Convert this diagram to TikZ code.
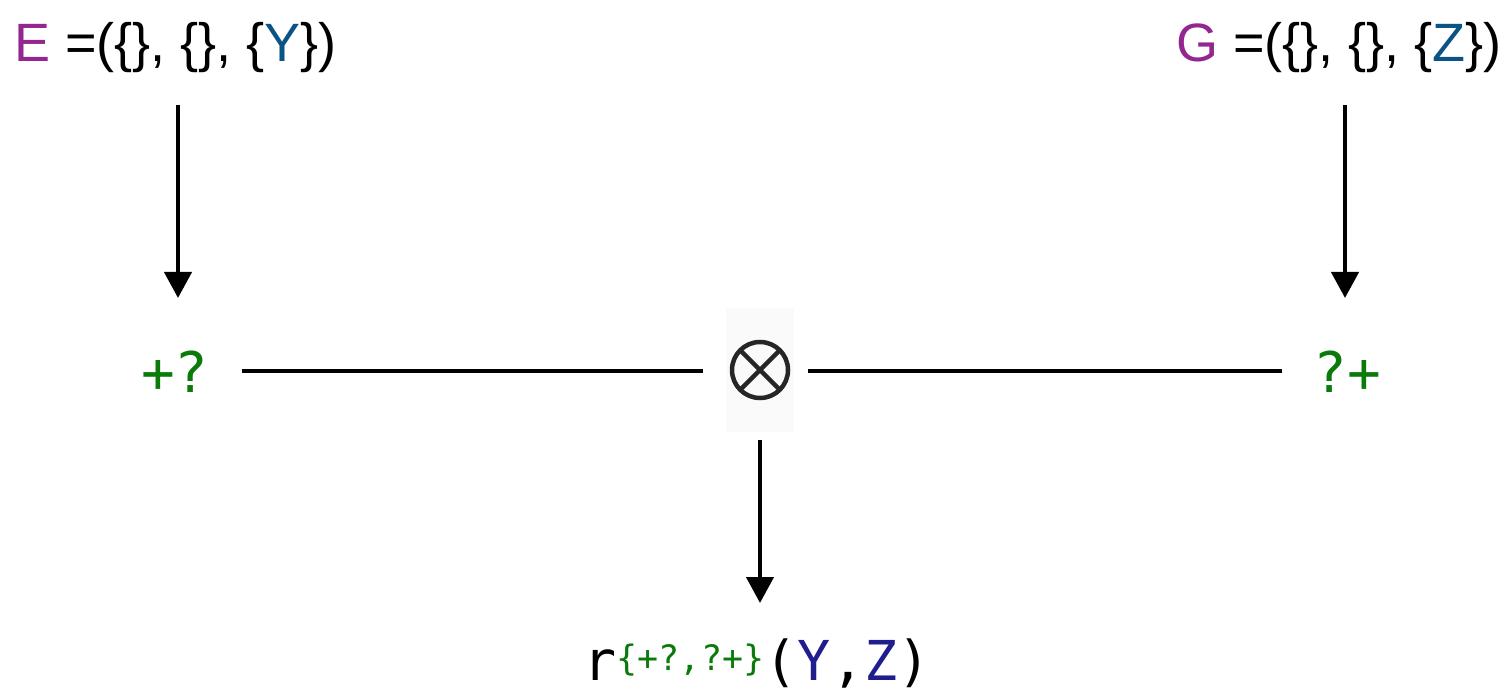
\documentclass[tikz,border=0pt]{standalone}
\usepackage{fontspec}
\usetikzlibrary{arrows.meta}
\setmainfont{Liberation Sans}
\newfontfamily\monof{DejaVu Sans Mono}
\definecolor{vpurple}{HTML}{93278F}
\definecolor{vblue}{HTML}{0B5384}
\definecolor{vnavy}{HTML}{201D8E}
\definecolor{vgreen}{HTML}{0A7A0A}
\definecolor{vbg}{HTML}{FAFAFA}
\tikzset{
  toplabel/.style={inner sep=0pt, font=\fontsize{54}{60}\selectfont},
  opnode/.style={inner sep=0pt, text=vgreen, font=\monof\fontsize{56}{60}\selectfont},
  arr/.style={line width=4.3pt, -{Triangle[length=26pt,width=27pt]}},
  conn/.style={line width=4.3pt}
}
\begin{document}
\begin{tikzpicture}[x=1pt,y=-1pt]
\useasboundingbox (0,0) rectangle (1511,692);
% top labels
\node[toplabel, anchor=base west] (E) at (14,62) {\textcolor{vpurple}{E} =(\{\}, \{\}, \{\textcolor{vblue}{Y}\})};
\node[toplabel, anchor=base west] (G) at (1176,62) {\textcolor{vpurple}{G} =(\{\}, \{\}, \{\textcolor{vblue}{Z}\})};
% operand nodes
\node[opnode, anchor=base] (pq) at (175,392) {+?};
\node[opnode, anchor=base] (qp) at (1347,392) {?+};
% otimes
\node[fill=vbg, minimum width=68pt, minimum height=124pt, inner sep=0pt] (ot) at (760,370) {};
\draw[line width=4.5pt, color=black!85] (ot.center) circle (28pt);
\draw[line width=4.5pt, color=black!85] ([shift={(-19.8pt,-19.8pt)}]ot.center) -- ([shift={(19.8pt,19.8pt)}]ot.center);
\draw[line width=4.5pt, color=black!85] ([shift={(-19.8pt,19.8pt)}]ot.center) -- ([shift={(19.8pt,-19.8pt)}]ot.center);
% result
\node[inner sep=0pt, anchor=base, font=\monof\fontsize{55}{60}\selectfont] (r) at (757,680)
  {r\textsuperscript{\textcolor{vgreen}{\fontsize{35}{40}\selectfont\{+?,?+\}}}(\textcolor{vnavy}{Y},\textcolor{vnavy}{Z})};
% connector endpoints
\coordinate (eS) at (178,105);
\coordinate (eT) at (178,298);
\coordinate (gS) at (1345,105);
\coordinate (gT) at (1345,298);
\coordinate (lS) at (242,371);
\coordinate (lT) at (703,371);
\coordinate (rS) at (808,371);
\coordinate (rT) at (1282,371);
\coordinate (dS) at (760,440);
\coordinate (dT) at (760,603);
\draw[arr] (eS) -- (eT);
\draw[arr] (gS) -- (gT);
\draw[conn] (lS) -- (lT);
\draw[conn] (rS) -- (rT);
\draw[arr] (dS) -- (dT);
\end{tikzpicture}
\end{document}
